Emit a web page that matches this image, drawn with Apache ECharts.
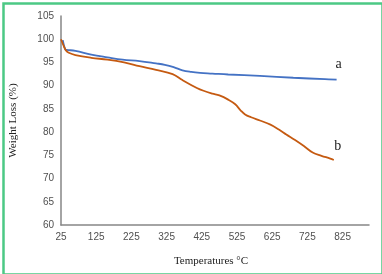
<!DOCTYPE html>
<html>
<head>
<meta charset="utf-8">
<script src="https://cdn.jsdelivr.net/npm/echarts@6/dist/echarts.min.js"></script>
<style>html,body{margin:0;padding:0;background:#fff}#c{width:382px;height:274px}</style>
</head>
<body>
<div id="c"></div>
<script>
// Sample a (blue)
const tempA = [30, 37, 41, 66, 111, 157, 200, 248, 295, 320, 345, 370, 395, 420, 455, 500, 590, 685, 775, 808];
const lossA = [99.8, 97.8, 97.7, 97.5, 96.7, 96.1, 95.6, 95.3, 94.8, 94.5, 94.0, 93.3, 92.95, 92.75, 92.6, 92.4, 92.1, 91.7, 91.4, 91.3];
// Sample b (orange)
const tempB = [25, 33, 39, 47, 66, 111, 157, 204, 248, 295, 342, 370, 411, 430, 455, 475, 500, 520, 535, 548, 565, 590, 620, 645, 665, 690, 715, 740, 765, 790, 800];
const lossB = [100, 98.5, 97.6, 97.1, 96.6, 96.0, 95.6, 95.0, 94.2, 93.4, 92.5, 91.2, 89.5, 88.9, 88.3, 87.9, 87.0, 86.0, 84.7, 83.8, 83.2, 82.5, 81.6, 80.5, 79.5, 78.3, 77.0, 75.6, 74.9, 74.3, 74.0];
const xMin = 25, xMax = 900, xStep = 100;
const yMin = 60, yMax = 105, yStep = 5;
const seriesNames = ['a', 'b'];

const chart = echarts.init(document.getElementById('c'), null, {renderer: 'canvas'});
const tickFont = '"Liberation Sans Narrow", "Liberation Sans", sans-serif';
const serif = '"Liberation Serif", "DejaVu Serif", serif';
function pairs(xs, ys) { return xs.map((x, i) => [x, ys[i]]); }
chart.setOption({
  animation: false,
  backgroundColor: '#fff',
  graphic: [{
    type: 'rect', left: 1, top: 1,
    shape: {width: 379, height: 271},
    style: {fill: 'none', stroke: '#4cc985', lineWidth: 2.5}
  }],
  grid: {left: 52, right: 13, top: 16, bottom: 49},
  xAxis: {
    type: 'value', min: xMin, max: xMax, interval: xStep,
    name: 'Temperatures °C', nameLocation: 'middle', nameGap: 31,
    nameTextStyle: {fontFamily: serif, fontSize: 11, color: '#222', padding: [0, 8, 0, 0]},
    axisLine: {show: true, lineStyle: {color: '#868686', width: 1.5}},
    axisTick: {show: false},
    splitLine: {show: false},
    axisLabel: {color: '#505050', fontFamily: tickFont, fontSize: 10, margin: 7, showMaxLabel: false}
  },
  yAxis: {
    type: 'value', min: yMin, max: yMax, interval: yStep,
    name: 'Weight Loss (%)', nameLocation: 'middle', nameGap: 34,
    nameTextStyle: {fontFamily: serif, fontSize: 11, color: '#222', padding: [0, 0, 8, 0]},
    axisLine: {show: true, lineStyle: {color: '#868686', width: 1.5}},
    axisTick: {show: false},
    splitLine: {show: false},
    axisLabel: {color: '#505050', fontFamily: tickFont, fontSize: 10, margin: 7}
  },
  series: [
    {
      name: seriesNames[0], type: 'line', data: pairs(tempA, lossA), smooth: 0.4,
      showSymbol: false, lineStyle: {color: '#4472C4', width: 1.8}, itemStyle: {color: '#4472C4'},
      endLabel: {show: true, formatter: seriesNames[0], fontFamily: serif, fontSize: 14, color: '#222', align: 'center', offset: [-6, -15]}
    },
    {
      name: seriesNames[1], type: 'line', data: pairs(tempB, lossB), smooth: 0.4,
      showSymbol: false, lineStyle: {color: '#C55A11', width: 1.8}, itemStyle: {color: '#C55A11'},
      endLabel: {show: true, formatter: seriesNames[1], fontFamily: serif, fontSize: 14, color: '#222', align: 'center', offset: [-4, -14]}
    }
  ]
});
</script>
</body>
</html>
